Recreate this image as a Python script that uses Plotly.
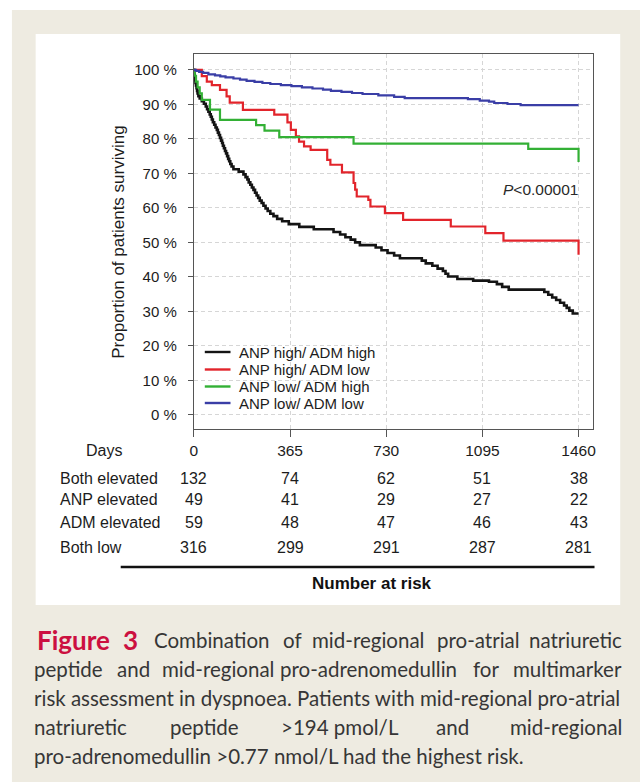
import plotly.graph_objects as go

W, H = 643, 782

# ---- survival curves: step points (day, % surviving) ----
groups = ["ANP high/ ADM high", "ANP high/ ADM low", "ANP low/ ADM high", "ANP low/ ADM low"]
colors = ["#141414", "#E2242B", "#33B035", "#3A3EA6"]
widths = [2.6, 2.2, 2.2, 2.2]

both_high_days = [0, 1, 2, 3, 4, 6, 8, 10, 12, 14, 17, 22, 30, 38, 45, 50, 55, 60, 64, 68,
                  72, 77, 82, 87, 91, 95, 99, 103, 107, 110, 114, 118, 122, 126, 130, 134,
                  138, 143, 150, 170, 188, 196, 203, 208, 214, 220, 226, 232, 238, 244, 250,
                  257, 264, 272, 280, 290, 302, 316, 335, 360, 400, 455, 530, 555, 575, 595,
                  612, 630, 690, 712, 735, 760, 782, 865, 880, 905, 925, 945, 955, 965, 1000,
                  1060, 1120, 1150, 1170, 1195, 1330, 1345, 1360, 1375, 1390, 1405, 1415,
                  1425, 1438, 1460]
both_high_surv = [100, 99.2, 98.5, 97.7, 97.0, 96.2, 95.5, 94.7, 93.9, 93.2, 92.4, 91.7, 90.9,
                  90.2, 89.4, 88.6, 87.9, 87.1, 86.4, 85.6, 84.8, 84.1, 83.3, 82.6, 81.8, 81.1,
                  80.3, 79.5, 78.8, 78.0, 77.3, 76.5, 75.8, 75.0, 74.2, 73.5, 72.7, 72.0, 71.2,
                  70.5, 69.7, 68.9, 68.2, 67.4, 66.7, 65.9, 65.2, 64.4, 63.6, 62.9, 62.1, 61.4,
                  60.6, 59.8, 59.1, 58.3, 57.6, 56.8, 56.1, 55.3, 54.5, 53.8, 53.0, 52.3, 51.5,
                  50.8, 50.0, 49.2, 48.5, 47.7, 46.9, 46.2, 45.4, 44.7, 43.9, 43.2, 42.4, 41.7,
                  40.9, 40.1, 39.4, 38.9, 38.6, 37.9, 37.1, 36.3, 35.6, 34.8, 34.0, 33.3, 32.5,
                  31.7, 31.0, 30.2, 29.4, 29.4]

anp_high_days = [0, 30, 49, 68, 99, 124, 136, 186, 305, 355, 368, 387, 399, 418, 443, 506, 518,
                 562, 606, 612, 618, 662, 670, 725, 794, 975, 1106, 1175, 1460]
anp_high_surv = [100, 98.2, 96.6, 95.6, 94.2, 92.3, 90.5, 88.4, 87.0, 84.8, 82.6, 80.7, 79.2,
                 77.8, 76.8, 73.9, 72.5, 70.3, 67.2, 65.3, 63.3, 62.3, 60.4, 58.5, 56.5, 54.6,
                 52.7, 50.5, 46.4]

adm_high_days = [0, 3, 8, 14, 22, 30, 61, 99, 236, 268, 324, 606, 1269, 1460]
adm_high_surv = [100, 98.3, 96.6, 94.9, 93.2, 91.3, 88.5, 85.5, 84.0, 82.4, 80.5, 78.6, 77.1, 73.3]

both_low_days = [0, 8, 20, 35, 55, 80, 100, 120, 150, 175, 200, 230, 260, 290, 330, 370, 410,
                 450, 490, 520, 560, 600, 640, 700, 760, 800, 1040, 1085, 1120, 1140, 1190,
                 1240, 1460]
both_low_surv = [100, 99.7, 99.4, 99.1, 98.7, 98.4, 98.1, 97.8, 97.5, 97.2, 96.8, 96.5, 96.2,
                 95.9, 95.6, 95.3, 94.9, 94.6, 94.3, 93.9, 93.6, 93.3, 93.0, 92.6, 92.2, 91.8,
                 91.5, 91.1, 90.8, 90.4, 90.1, 89.8, 89.8]

curve_days = [both_high_days, anp_high_days, adm_high_days, both_low_days]
curve_surv = [both_high_surv, anp_high_surv, adm_high_surv, both_low_surv]

# ---- number-at-risk table ----
risk_days = [0, 365, 730, 1095, 1460]
risk_rows = ["Both elevated", "ANP elevated", "ADM elevated", "Both low"]
risk_both_elevated = [132, 74, 62, 51, 38]
risk_anp_elevated = [49, 41, 29, 27, 22]
risk_adm_elevated = [59, 48, 47, 46, 43]
risk_both_low = [316, 299, 291, 287, 281]
risk_counts = [risk_both_elevated, risk_anp_elevated, risk_adm_elevated, risk_both_low]

y_ticks = [0, 10, 20, 30, 40, 50, 60, 70, 80, 90, 100]
p_value_text = "<i>P</i>&lt;0.00001"

# ---- caption: justified lines, each word placed by anchor ("l" left, "c" centre, "r" right) ----
caption_lines = [
    [("Combination", 210, "c"), ("of", 292, "c"), ("mid-regional", 368, "c"),
     ("pro-atrial", 480, "c"), ("natriuretic", 623, "r")],
    [("peptide", 33, "l"), ("and", 131, "c"), ("mid-regional", 216, "c"),
     ("pro-adrenomedullin", 369, "c"), ("for", 487, "c"), ("multimarker", 623, "r")],
    [("risk assessment in dyspnoea. Patients with mid-regional pro-atrial", 33, "l")],
    [("natriuretic", 33, "l"), ("peptide", 203, "c"), ("&gt;194 pmol/L", 340, "c"),
     ("and", 453, "c"), ("mid-regional", 623, "r")],
    [("pro-adrenomedullin &gt;0.77 nmol/L had the highest risk.", 33, "l")],
]
caption_y = [640, 669, 698, 727, 756]


def px(x):
    return x / W


def py(y):
    return 1 - y / H


CHART_FONT = "Liberation Sans, Arial, sans-serif"
TEXT = "#1c1c1c"

fig = go.Figure()
for name, d, s, c, w in zip(groups, curve_days, curve_surv, colors, widths):
    fig.add_trace(go.Scatter(x=d, y=s, mode="lines", name=name,
                             line=dict(color=c, width=w, shape="hv"),
                             showlegend=False, hoverinfo="skip"))

shapes = [
    # page and panel backgrounds
    dict(type="rect", xref="paper", yref="paper", x0=px(8), x1=1.0, y0=0, y1=py(10),
         fillcolor="#EEEBE1", line_width=0, layer="below"),
    dict(type="rect", xref="paper", yref="paper", x0=px(32), x1=px(623), y0=py(605), y1=py(34),
         fillcolor="white", line_width=0, layer="below"),
    # rule above the risk-table label
    dict(type="line", xref="paper", yref="paper", x0=px(118), x1=px(597), y0=py(567), y1=py(567),
         line=dict(color="#111111", width=2.6)),
]

annotations = []


def note(text, x, y, anchor="left", size=16, color=TEXT, family=CHART_FONT, xref="paper", **kw):
    annotations.append(dict(text=text, xref=xref, yref="paper", x=x, y=y,
                            xanchor=anchor, yanchor="middle", showarrow=False,
                            borderpad=0, font=dict(family=family, size=size, color=color), **kw))


# manual legend
legend_y = [352, 369.5, 386.5, 403]
for name, c, ly in zip(groups, colors, legend_y):
    shapes.append(dict(type="line", xref="paper", yref="paper", x0=px(203), x1=px(229),
                       y0=py(ly), y1=py(ly), line=dict(color=c, width=2.4)))
    note(name, px(237), py(ly), size=15)

note(p_value_text, px(581), py(189), anchor="right", size=15.5, color="#2a2a2a")
note("Proportion of patients surviving", px(115), py(242), anchor="center", size=17,
     textangle=-90)

# risk table
note("Days", px(101), py(450), anchor="center")
row_y = [478, 499.5, 522, 547]
for label, counts, ry in zip(risk_rows, risk_counts, row_y):
    note(label, px(56), py(ry))
    for d, n in zip(risk_days, counts):
        note(str(n), d, py(ry), anchor="center", xref="x")
note("<b>Number at risk</b>", px(372), py(583), anchor="center", size=17, color="#111111")

# caption
CAP_FONT = "Lato, 'Open Sans', sans-serif"
CAP_COLOR = "#363636"
CAP_SIZE = 20.5
note("<b>Figure</b>", px(70), py(caption_y[0]), anchor="center", size=26, color="#CC1040",
     family=CAP_FONT)
note("<b>3</b>", px(127.5), py(caption_y[0]), anchor="center", size=26, color="#CC1040",
     family=CAP_FONT)
anchor_names = {"l": "left", "c": "center", "r": "right"}
anchor_shift = {"l": -4, "c": 0, "r": 3}
for words, cy in zip(caption_lines, caption_y):
    for word, wx, a in words:
        note(word, px(wx + anchor_shift[a]), py(cy), anchor=anchor_names[a], size=CAP_SIZE,
             color=CAP_COLOR, family=CAP_FONT)

fig.update_layout(
    width=W, height=H,
    margin=dict(l=0, r=0, t=0, b=0),
    paper_bgcolor="white",
    plot_bgcolor="white",
    showlegend=False,
    shapes=shapes,
    annotations=annotations,
    xaxis=dict(
        domain=[px(192), px(595)], range=[0, 1513],
        tickvals=risk_days, ticktext=[str(d) for d in risk_days],
        ticks="outside", ticklen=7, tickwidth=1, tickcolor="#555555",
        tickfont=dict(family=CHART_FONT, size=15.5, color=TEXT),
        showline=True, mirror=True, linecolor="#555555", linewidth=1.3,
        showgrid=True, gridcolor="#D6D6D6", gridwidth=1, griddash="4px,3px",
        zeroline=False, fixedrange=True,
    ),
    yaxis=dict(
        domain=[py(429), py(54)], range=[-4.1, 104.6],
        tickvals=y_ticks, ticktext=[f"{v} %" for v in y_ticks],
        ticks="outside", ticklen=5, tickwidth=1, tickcolor="#555555",
        ticklabelstandoff=8,
        tickfont=dict(family=CHART_FONT, size=15, color=TEXT),
        showline=True, mirror=True, linecolor="#555555", linewidth=1.3,
        showgrid=True, gridcolor="#D6D6D6", gridwidth=1, griddash="4px,3px",
        zeroline=False, fixedrange=True,
    ),
)

fig.write_html("out.html")
